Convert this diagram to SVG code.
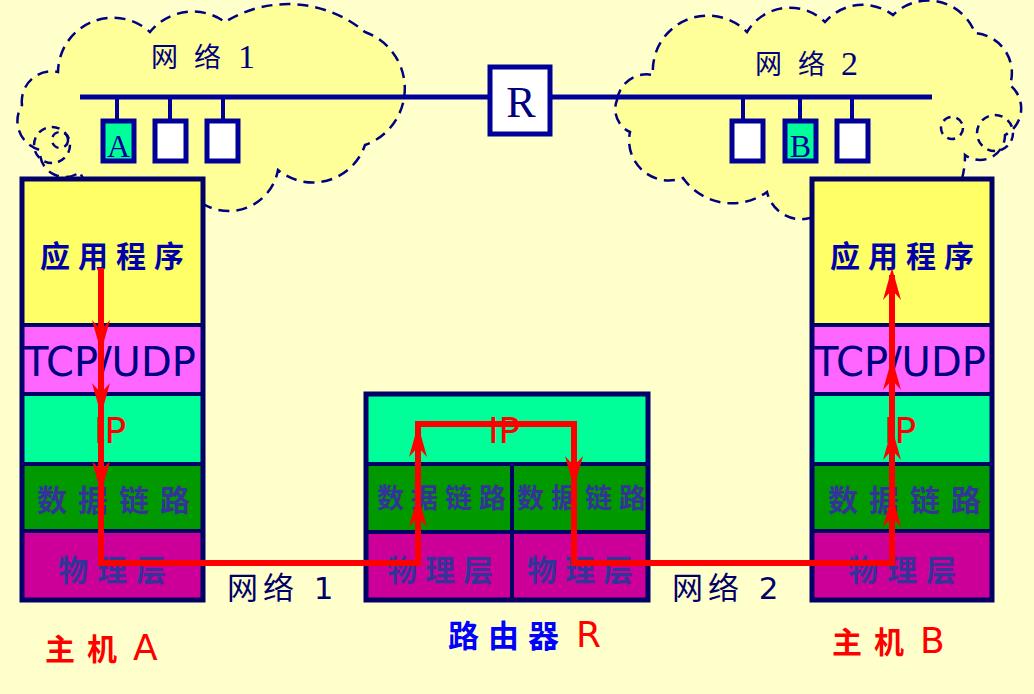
<svg xmlns="http://www.w3.org/2000/svg" width="1034" height="694" viewBox="0 0 1034 694">
<style>
.cloud{fill:#FFFF99;stroke:#000080;stroke-width:2.5;stroke-dasharray:11 7}
.cloudc{fill:none;stroke:#000080;stroke-width:2.5;stroke-dasharray:8 6}
.bus{stroke:#000099;stroke-width:5;fill:none}
.stem{stroke:#000099;stroke-width:4}
.host{stroke:#000099;stroke-width:5}
.border{fill:none;stroke:#000066;stroke-width:5}
.div{stroke:#000066;stroke-width:4}
.app{fill:#FFFF66}.tcp{fill:#FF66FF}.ip{fill:#00FF99}.dl{fill:#009900}.ph{fill:#CC0099}
.cjk{font-family:"Noto Sans CJK SC",sans-serif;font-weight:bold}
.cjkn{font-family:"Noto Sans CJK SC",sans-serif;font-weight:normal}
.lat{font-family:"DejaVu Sans","Noto Sans CJK SC",sans-serif}
.ser{font-family:"Liberation Serif","Noto Sans CJK SC",serif}
.app-t{fill:#0000AA;font-size:30px;letter-spacing:8px}
.tcp-t{fill:#000080;font-size:40px}
.ip-t{fill:#FF0000;font-size:36px}
.dl-t{fill:#333399;font-size:30px;letter-spacing:11px}
.ph-t{fill:#333399;font-size:30px;letter-spacing:9px}
.conn{fill:none;stroke:#FF0000;stroke-width:6}
.net{fill:#000080}
</style>
<defs>
<path id="ah" d="M0,0 L9,32 L0,22 L-9,32 Z" fill="#FF0000"/>
</defs>
<rect width="1034" height="694" fill="#FFFFCC"/>

<g id="cloud1">
<path class="cloud" d="M22,105 A30,30 0 0 1 58,72 A55,55 0 0 1 150,32 A55,55 0 0 1 225,22 A120,120 0 0 1 365,32 A60,60 0 0 1 365,145 A55,55 0 0 1 278,170 A50,50 0 0 1 205,205 A80,80 0 0 1 80,172 A25,25 0 0 1 40,150 A30,30 0 0 1 22,105 Z"/>
<circle class="cloudc" cx="52" cy="145" r="18"/>
<circle class="cloudc" cx="60" cy="140" r="8"/>
<text class="net" y="67"><tspan class="cjkn" x="151" font-size="27">网</tspan><tspan class="cjkn" x="194" font-size="27">络</tspan><tspan class="ser" x="238" y="68" font-size="34">1</tspan></text>
</g>
<g id="cloud2">
<path class="cloud" d="M617,100 A30,30 0 0 1 653,75 A55,55 0 0 1 747,32 A50,50 0 0 1 825,22 A50,50 0 0 1 893,15 A50,50 0 0 1 975,33 A40,40 0 0 1 1010,85 A30,30 0 0 1 1005,135 A25,25 0 0 1 965,155 A90,90 0 0 1 810,218 A35,35 0 0 1 767,192 A60,60 0 0 1 683,178 A40,40 0 0 1 630,132 A25,25 0 0 1 617,100 Z"/>
<circle class="cloudc" cx="995" cy="133" r="18"/>
<circle class="cloudc" cx="952" cy="128" r="11"/>
<text class="net" y="74"><tspan class="cjkn" x="755" font-size="27">网</tspan><tspan class="cjkn" x="798" font-size="27">络</tspan><tspan class="ser" x="841" y="75" font-size="34">2</tspan></text>
</g>

<g id="buses">
<path class="bus" d="M80,97 H490 M550,97 H932"/>
<path class="stem" d="M117,97 V120 M170,97 V120 M223,97 V120 M743,97 V120 M800,97 V120 M852,97 V120"/>
</g>
<g id="hostA-small"><rect class="host" x="103" y="121" width="31" height="40" fill="#00FF99"/><text class="ser" x="118.5" y="157" font-size="32" fill="#000099" text-anchor="middle">A</text></g>
<g id="host-n1-2"><rect class="host" x="155" y="121" width="31" height="40" fill="#FFFFFF"/></g>
<g id="host-n1-3"><rect class="host" x="207" y="121" width="31" height="40" fill="#FFFFFF"/></g>
<g id="host-n2-1"><rect class="host" x="732" y="121" width="31" height="40" fill="#FFFFFF"/></g>
<g id="hostB-small"><rect class="host" x="785" y="121" width="31" height="40" fill="#00FF99"/><text class="ser" x="800.5" y="157" font-size="32" fill="#000099" text-anchor="middle">B</text></g>
<g id="host-n2-3"><rect class="host" x="837" y="121" width="31" height="40" fill="#FFFFFF"/></g>
<g id="routerR-small"><rect x="490" y="67" width="60" height="67" fill="#FFFFFF" stroke="#000099" stroke-width="5"/><text class="ser" x="521" y="117" font-size="44" fill="#000080" text-anchor="middle">R</text></g>

<g id="hostA">
<rect class="app" x="22" y="179" width="181" height="146"/>
<rect class="tcp" x="22" y="325" width="181" height="69"/>
<rect class="ip" x="22" y="394" width="181" height="70"/>
<rect class="dl" x="22" y="464" width="181" height="67"/>
<rect class="ph" x="22" y="531" width="181" height="69"/>
<path class="div" d="M22,325 H203 M22,394 H203 M22,464 H203 M22,531 H203"/>
<rect class="border" x="22" y="179" width="181" height="421"/>
<text class="cjk app-t" x="40" y="267">应用程序</text>
<text class="lat tcp-t" x="24" y="376">TCP/UDP</text>
<text class="lat ip-t" x="94" y="443">IP</text>
<text class="cjk dl-t" x="37" y="511">数据链路</text>
<text class="cjk ph-t" x="58" y="581">物理层</text>
</g>

<g id="router">
<rect class="ip" x="366" y="394" width="282" height="70"/>
<rect class="dl" x="366" y="464" width="282" height="68"/>
<rect class="ph" x="366" y="532" width="282" height="68"/>
<path class="div" d="M366,464 H648 M366,532 H648 M512,464 V600"/>
<rect class="border" x="366" y="394" width="282" height="206"/>
<text class="lat ip-t" x="488" y="443">IP</text>
<text class="cjk dl-t" x="377" y="508" style="font-size:27px;letter-spacing:7px">数据链路</text>
<text class="cjk dl-t" x="517" y="508" style="font-size:27px;letter-spacing:7px">数据链路</text>
<text class="cjk ph-t" x="387" y="581" style="letter-spacing:8px">物理层</text>
<text class="cjk ph-t" x="527" y="581" style="letter-spacing:8px">物理层</text>
</g>

<g id="hostB">
<rect class="app" x="812" y="179" width="180" height="146"/>
<rect class="tcp" x="812" y="325" width="180" height="69"/>
<rect class="ip" x="812" y="394" width="180" height="70"/>
<rect class="dl" x="812" y="464" width="180" height="67"/>
<rect class="ph" x="812" y="531" width="180" height="69"/>
<path class="div" d="M812,325 H992 M812,394 H992 M812,464 H992 M812,531 H992"/>
<rect class="border" x="812" y="179" width="180" height="421"/>
<text class="cjk app-t" x="830" y="267">应用程序</text>
<text class="lat tcp-t" x="814" y="376">TCP/UDP</text>
<text class="lat ip-t" x="884" y="443">IP</text>
<text class="cjk dl-t" x="828" y="511">数据链路</text>
<text class="cjk ph-t" x="848" y="581">物理层</text>
</g>

<g id="connectors">
<path class="conn" d="M101,268 V563 H418 V424 H574 V563 H892 V275"/>
<use href="#ah" transform="translate(101,352) rotate(180)"/>
<use href="#ah" transform="translate(101,415) rotate(180)"/>
<use href="#ah" transform="translate(101,493) rotate(180)"/>
<use href="#ah" transform="translate(418,425)"/>
<use href="#ah" transform="translate(418,495)"/>
<use href="#ah" transform="translate(574,488) rotate(180)"/>
<use href="#ah" transform="translate(892,268)"/>
<use href="#ah" transform="translate(892,358)"/>
<use href="#ah" transform="translate(892,428)"/>
<use href="#ah" transform="translate(892,495)"/>
</g>

<g id="labels">
<text class="lat" x="227" y="599" font-size="31" fill="#000066" letter-spacing="5">网络 1</text>
<text class="lat" x="672" y="599" font-size="31" fill="#000066" letter-spacing="5">网络 2</text>
<text x="448" y="647" font-size="31"><tspan class="cjk" fill="#0000FF" letter-spacing="9">路由器</tspan><tspan class="lat" fill="#FF0000" font-size="36" dx="8">R</tspan></text>
<text x="45" y="660" font-size="30"><tspan class="cjk" fill="#FF0000" letter-spacing="12">主机</tspan><tspan class="lat" fill="#FF0000" font-size="36" dx="4">A</tspan></text>
<text x="832" y="653" font-size="30"><tspan class="cjk" fill="#FF0000" letter-spacing="12">主机</tspan><tspan class="lat" fill="#FF0000" font-size="36" dx="4">B</tspan></text>
</g>
</svg>
